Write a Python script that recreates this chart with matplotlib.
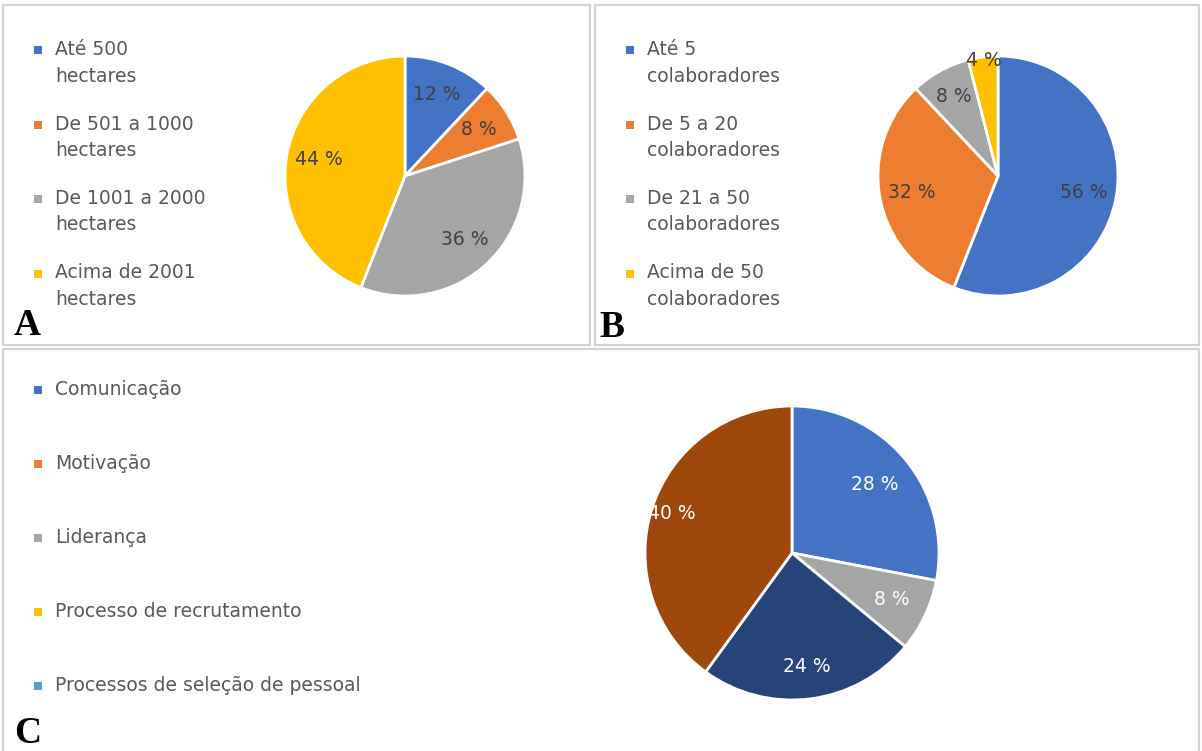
import matplotlib.pyplot as plt
from matplotlib.patches import Rectangle

# ---- data ----
area_labels = ["Até 500\nhectares", "De 501 a 1000\nhectares",
               "De 1001 a 2000\nhectares", "Acima de 2001\nhectares"]
area_values = [12, 8, 36, 44]

staff_labels = ["Até 5\ncolaboradores", "De 5 a 20\ncolaboradores",
                "De 21 a 50\ncolaboradores", "Acima de 50\ncolaboradores"]
staff_values = [56, 32, 8, 4]

issue_labels = ["Comunicação", "Motivação", "Liderança",
                "Processo de recrutamento", "Processos de seleção de pessoal"]
issue_values = [28, 8, 24, 40]

# ---- style ----
W, H = 1202, 751
office = ["#4472C4", "#ED7D31", "#A5A5A5", "#FFC000", "#5B9BD5"]
c_colors = ["#4472C4", "#A5A5A5", "#264478", "#9E480E"]
legend_color = "#595959"
plt.rcParams["font.family"] = ["DejaVu Sans"]

fig = plt.figure(figsize=(W / 100, H / 100), dpi=100)
fig.patch.set_facecolor("white")


def px_axes(x0, y0, x1, y1):
    return fig.add_axes([x0 / W, 1 - y1 / H, (x1 - x0) / W, (y1 - y0) / H])


# overlay in pixel coords for frames, legends, panel letters
bg = px_axes(0, 0, W, H)
bg.set_xlim(0, W)
bg.set_ylim(H, 0)
bg.axis("off")

for (x, y, w, h) in [(3, 5, 587, 340), (595, 5, 604, 340), (3, 349, 1196, 410)]:
    bg.add_patch(Rectangle((x, y), w, h, fill=False, edgecolor="#d2d2d2", lw=1.6))


def draw_pie(cx, cy, r, values, colors, txt_color, dists):
    ax = px_axes(cx - r, cy - r, cx + r, cy + r)
    wedges, _, autotexts = ax.pie(values, colors=colors, startangle=90, counterclock=False,
                                  autopct=lambda p: f"{p:.0f} %", pctdistance=0.73,
                                  wedgeprops=dict(edgecolor="white", linewidth=2),
                                  textprops=dict(color=txt_color, fontsize=13.5))
    for t, d in zip(autotexts, dists):
        x, y = t.get_position()
        t.set_position((x * d / 0.73, y * d / 0.73))
    ax.set_xlim(-1, 1)
    ax.set_ylim(-1, 1)
    ax.set_aspect("equal")
    ax.axis("off")
    return ax


draw_pie(405, 176, 120, area_values, office[:4], "#404040", [0.73, 0.73, 0.73, 0.73])
draw_pie(998, 176, 120, staff_values, office[:4], "#404040", [0.73, 0.73, 0.76, 0.97])
draw_pie(792, 553, 147, issue_values, c_colors, "white", [0.73, 0.75, 0.78, 0.86])


def legend(x, y0, step, labels, colors):
    for i, (lab, col) in enumerate(zip(labels, colors)):
        y = y0 + i * step
        bg.add_patch(Rectangle((x - 4, y - 4), 8, 8, color=col, lw=0))
        bg.text(x + 17, y - 10, lab, color=legend_color, fontsize=13.5,
                va="top", ha="left", linespacing=1.5)


legend(38, 50, 74.5, area_labels, office[:4])
legend(630, 50, 74.5, staff_labels, office[:4])
legend(38, 390, 74, issue_labels, office)

for lab, x, y in [("A", 14, 335), ("B", 599, 337), ("C", 14, 743)]:
    bg.text(x, y, lab, fontsize=27, fontweight="bold", family="Liberation Serif",
            va="baseline", ha="left", color="black")

fig.savefig("out.png", dpi=100, facecolor="white")
